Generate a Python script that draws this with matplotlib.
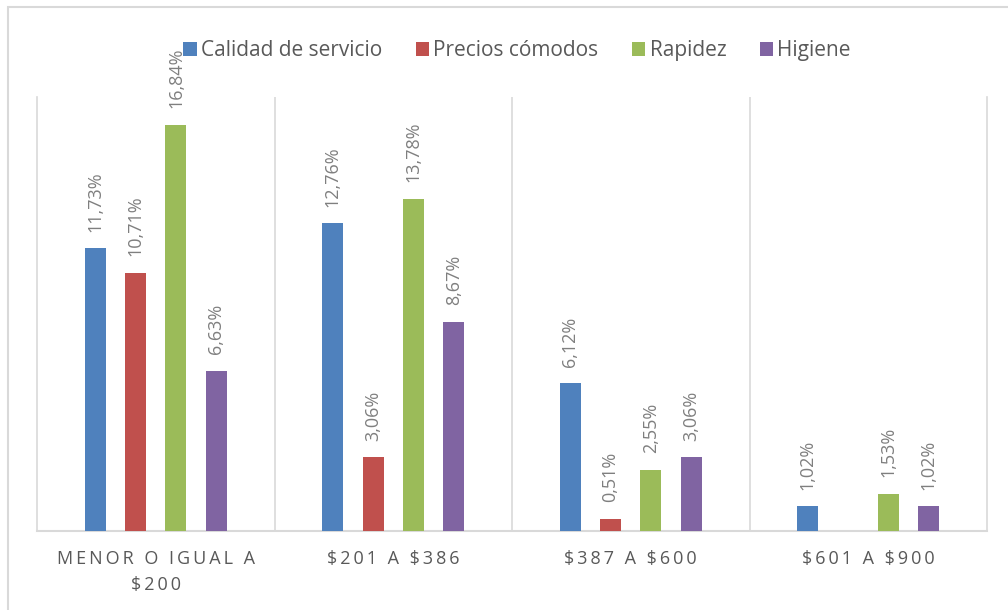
import matplotlib
matplotlib.use("Agg")
import matplotlib.pyplot as plt
from matplotlib.patches import Rectangle
import numpy as np

categories = ["MENOR O IGUAL A\n$200", "$201 A $386", "$387 A $600", "$601 A $900"]
series_names = ["Calidad de servicio", "Precios cómodos", "Rapidez", "Higiene"]
calidad = [11.73, 12.76, 6.12, 1.02]
precios = [10.71, 3.06, 0.51, np.nan]
rapidez = [16.84, 13.78, 2.55, 1.53]
higiene = [6.63, 8.67, 3.06, 1.02]
series_values = [calidad, precios, rapidez, higiene]
colors = ["#4F81BD", "#C0504D", "#9BBB59", "#8064A2"]

plt.rcParams['font.family'] = ['Open Sans', 'DejaVu Sans']
plt.rcParams['text.parse_math'] = False

fig = plt.figure(figsize=(10.08, 6.10), dpi=100)
W, H = 1008, 610
ax = fig.add_axes([37 / W, (H - 531) / H, (987 - 37) / W, (531 - 97) / H])

x = np.arange(len(categories))
pitch = 0.17
width = 0.088
for k, (name, vals, col) in enumerate(zip(series_names, series_values, colors)):
    pos = x + (k - 1.5) * pitch
    v = np.array(vals, dtype=float)
    ax.bar(pos, np.nan_to_num(v), width, color=col, label=name, zorder=3)
    for p, val in zip(pos, v):
        if np.isnan(val):
            continue
        ax.annotate(f"{val:.2f}%".replace(".", ","), (p, val), xytext=(0, 12),
                    textcoords="offset points", rotation=90, ha="center", va="bottom",
                    fontsize=13, color="#7F7F7F")

ax.set_xlim(-0.5, 3.5)
ax.set_ylim(0, 18)
ax.set_yticks([])
for b in [0.5, 1.5, 2.5]:
    ax.axvline(b, color="#D9D9D9", lw=1.2, zorder=1)
ax.spines["top"].set_visible(False)
for s in ["right", "left"]:
    ax.spines[s].set_color("#D9D9D9")
    ax.spines[s].set_linewidth(1.2)
ax.spines["bottom"].set_color("#D9D9D9")
ax.spines["bottom"].set_linewidth(1.5)

def spaced(s):
    return "\n".join("\u2009".join(line) for line in s.split("\n"))

ax.set_xticks(x)
ax.set_xticklabels([spaced(c) for c in categories], fontsize=13, color="#595959",
                   linespacing=1.55)
ax.tick_params(axis="x", length=0, pad=14)

leg = fig.legend(loc="upper center", bbox_to_anchor=(0.513, 0.965), ncol=4, frameon=False,
                 fontsize=15, handlelength=0.65, handleheight=0.65, handletextpad=0.2,
                 columnspacing=1.6)
for t in leg.get_texts():
    t.set_color("#595959")

fig.patches.append(Rectangle((8 / W, -0.1), 1.2, (H - 7) / H + 0.1, transform=fig.transFigure,
                             fill=False, edgecolor="#D9D9D9", lw=1.5))

fig.savefig("out.png", dpi=100)
